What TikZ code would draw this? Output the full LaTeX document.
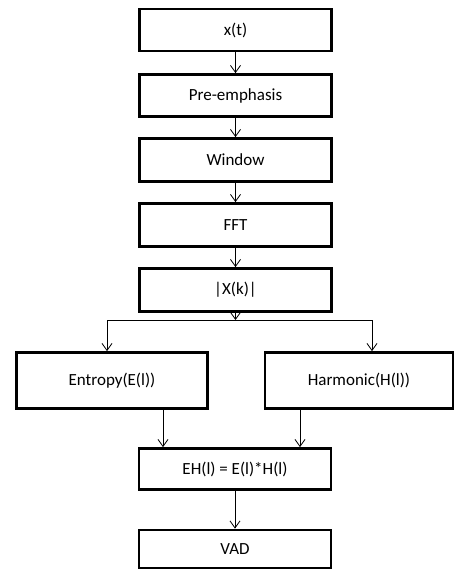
\documentclass[tikz,border=0pt]{standalone}
\usepackage{fontspec}
\setmainfont{Carlito}
\usetikzlibrary{arrows.meta}
\begin{document}
\begin{tikzpicture}[x=1pt,y=1pt,
  box/.style={draw,line width=2.8pt,minimum width=192pt,inner sep=0pt,font=\fontsize{17}{19}\selectfont},
  arr/.style={line width=0.8pt,-{Straight Barb[length=7pt,width=10pt]}}]
\useasboundingbox (0,0) rectangle (455,-571);
\node[box,minimum height=42pt] (xt) at (235.5,-30) {x(t)};
\node[box,minimum height=42pt] (pre) at (235.5,-95.5) {Pre-emphasis};
\node[box,minimum height=43pt] (win) at (235.5,-160) {Window};
\node[box,minimum height=43pt] (fft) at (235.5,-225) {FFT};
\node[box,minimum height=43pt] (xk) at (235.5,-290) {|X(k)|};
\node[box,minimum width=191pt,minimum height=56pt] (ent) at (112,-380.5) {Entropy(E(l))};
\node[box,minimum width=188pt,minimum height=56pt] (har) at (359,-380.5) {Harmonic(H(l))};
\node[box,minimum height=41pt] (eh) at (235,-469) {EH(l) = E(l)*H(l)};
\node[box,minimum height=38pt] (vad) at (235,-549) {VAD};
\coordinate (sp) at (235.5,-320);
\coordinate (spl) at (107,-320);
\coordinate (spr) at (372,-320);
\draw[arr] (xt) -- (pre);
\draw[arr] (pre) -- (win);
\draw[arr] (win) -- (fft);
\draw[arr] (fft) -- (xk);
\draw[arr] (xk) -- (sp);
\draw[line width=0.8pt] (spl) -- (spr);
\draw[arr] (spl) -- (spl |- ent.north);
\draw[arr] (spr) -- (spr |- har.north);
\draw[arr] (ent.south -| 163,0) -- (eh.north -| 163,0);
\draw[arr] (har.south -| 300,0) -- (eh.north -| 300,0);
\draw[arr] (eh) -- (vad);
\end{tikzpicture}
\end{document}
